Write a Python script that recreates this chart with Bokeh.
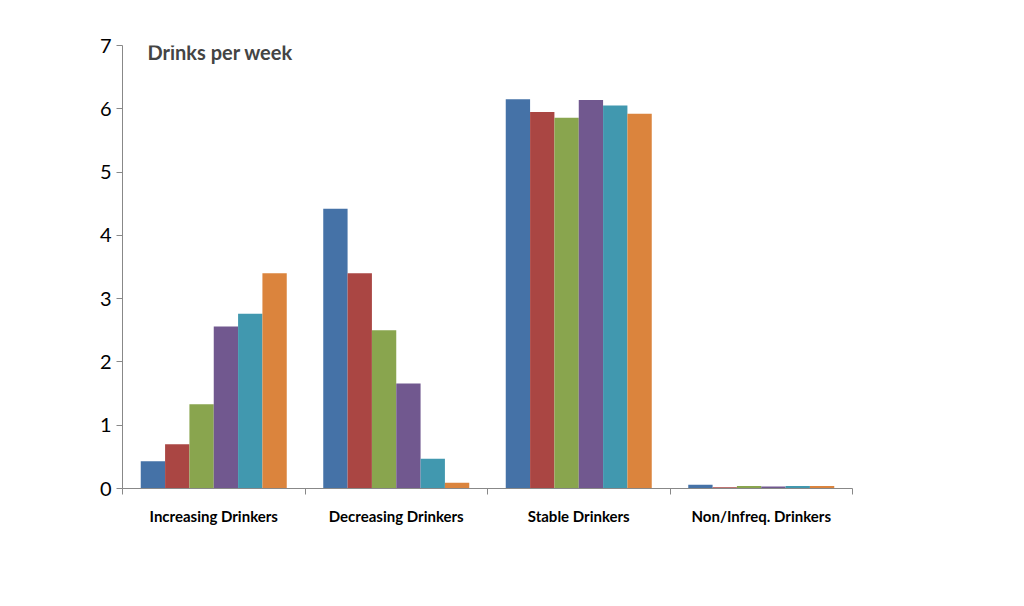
from bokeh.plotting import figure
from bokeh.models import FixedTicker, Range1d, Label, Legend, LegendItem, ColumnDataSource
from bokeh.embed import file_html
from bokeh.resources import INLINE

categories = ["Increasing Drinkers", "Decreasing Drinkers", "Stable Drinkers", "Non/Infreq. Drinkers"]
years = ["1998", "2000", "2002", "2004", "2006", "2008"]
colors = ["#4572A7", "#AA4643", "#89A54E", "#71588F", "#4198AF", "#DB843D"]
v1998 = [0.43, 4.42, 6.15, 0.06]
v2000 = [0.70, 3.40, 5.95, 0.02]
v2002 = [1.33, 2.50, 5.86, 0.04]
v2004 = [2.56, 1.66, 6.14, 0.03]
v2006 = [2.76, 0.47, 6.05, 0.04]
v2008 = [3.40, 0.09, 5.92, 0.04]
series = [v1998, v2000, v2002, v2004, v2006, v2008]

FONT = "Lato"
p = figure(width=1008, height=590, output_backend="svg", toolbar_location=None,
           x_range=Range1d(0, 4), y_range=Range1d(0, 7),
           min_border_left=122, min_border_right=156, min_border_top=45, min_border_bottom=102,
           border_fill_color="white")
p.outline_line_color = None
p.xgrid.visible = False
p.ygrid.visible = False

bw = 0.8 / 6
items = []
for j, (yr, vals, c) in enumerate(zip(years, series, colors)):
    xs = [i + 0.5 + (j - 2.5) * bw for i in range(len(categories))]
    src = ColumnDataSource(dict(x=xs, top=vals))
    r = p.vbar(x="x", top="top", width=bw, bottom=0, source=src, fill_color=c, line_color=None)
    items.append(LegendItem(label=yr, renderers=[r]))

p.yaxis.ticker = FixedTicker(ticks=list(range(8)), minor_ticks=[])
p.yaxis.major_label_text_font = FONT
p.yaxis.major_label_text_font_size = "20px"
p.yaxis.major_label_text_color = "black"
p.yaxis.axis_line_color = "#888888"
p.yaxis.major_tick_line_color = "#888888"
p.yaxis.major_tick_out = 6
p.yaxis.major_tick_in = 0
p.yaxis.minor_tick_line_color = None

p.xaxis.ticker = FixedTicker(ticks=[i + 0.5 for i in range(4)], minor_ticks=[0, 1, 2, 3, 4])
p.xaxis.major_label_overrides = {i + 0.5: c for i, c in enumerate(categories)}
p.xaxis.major_label_text_font = FONT
p.xaxis.major_label_text_font_style = "bold"
p.xaxis.major_label_text_font_size = "15px"
p.xaxis.major_label_text_color = "black"
p.xaxis.major_tick_line_color = None
p.xaxis.minor_tick_line_color = "#888888"
p.xaxis.minor_tick_out = 6
p.xaxis.minor_tick_in = 0
p.xaxis.axis_line_color = "#888888"
p.xaxis.major_label_standoff = 12

p.add_layout(Label(x=25, y=425, x_units="screen", y_units="screen", text="Drinks per week",
                   text_font=FONT, text_font_style="bold", text_font_size="20px"))

leg = Legend(items=items, orientation="horizontal", location=(105, -92),
             label_text_font=FONT, label_text_font_size="20px", glyph_width=16, glyph_height=16,
             spacing=18, border_line_color=None, background_fill_alpha=0, padding=4)
p.add_layout(leg)

open("out.html", "w").write(file_html(p, INLINE))
